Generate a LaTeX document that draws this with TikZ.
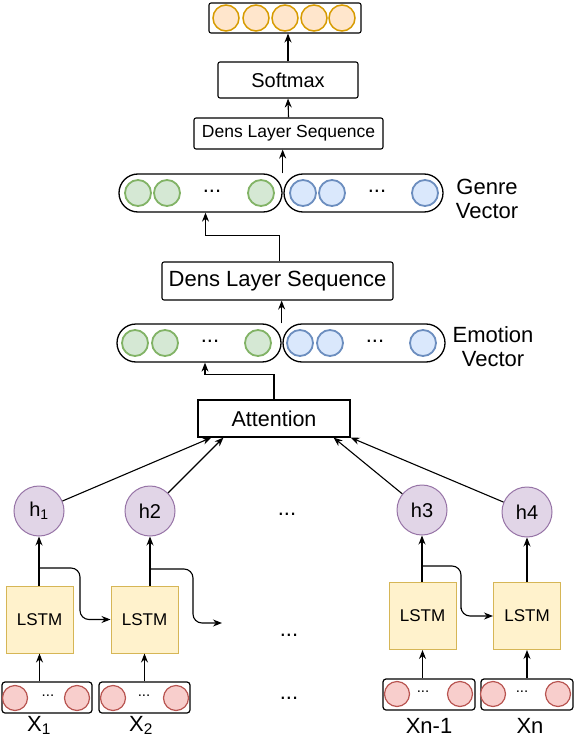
\documentclass[tikz,border=0pt]{standalone}
\usepackage{fontspec}
\setmainfont{Liberation Sans}
\usetikzlibrary{arrows.meta,positioning,calc}

\definecolor{lstmfill}{HTML}{FFF2CC}
\definecolor{lstmdraw}{HTML}{D6B656}
\definecolor{hfill}{HTML}{E1D5E7}
\definecolor{hdraw}{HTML}{9673A6}
\definecolor{xfill}{HTML}{F8CECC}
\definecolor{xdraw}{HTML}{B85450}
\definecolor{gfill}{HTML}{D5E8D4}
\definecolor{gdraw}{HTML}{82B366}
\definecolor{bfill}{HTML}{DAE8FC}
\definecolor{bdraw}{HTML}{6C8EBF}
\definecolor{ofill}{HTML}{FFE6CC}
\definecolor{odraw}{HTML}{D79B00}

\newcommand{\fs}[1]{\fontsize{#1}{#1}\selectfont}

\tikzset{
  arr/.style={-{Stealth[length=9pt,width=7pt]}, line width=1.1pt},
  layer/.style={draw, line width=1.1pt, rounded corners=2pt, inner sep=0pt},
  pill/.style={draw, line width=1.3pt, rounded corners=19pt, minimum height=38pt, inner sep=0pt},
  xpill/.style={draw, line width=1.2pt, rounded corners=3pt, minimum height=31pt, inner sep=0pt},
  lstm/.style={draw=lstmdraw, fill=lstmfill, line width=1pt, minimum width=67pt, minimum height=67pt, inner sep=0pt, font=\fs{17}},
  hcell/.style={circle, draw=hdraw, fill=hfill, line width=1pt, minimum size=50pt, inner sep=0pt, font=\fs{20}},
  gdot/.style={circle, draw=gdraw, fill=gfill, line width=1.8pt, minimum size=26pt, inner sep=0pt},
  bdot/.style={circle, draw=bdraw, fill=bfill, line width=1.8pt, minimum size=26pt, inner sep=0pt},
  odot/.style={circle, draw=odraw, fill=ofill, line width=1.5pt, minimum size=26pt, inner sep=0pt},
  xdot/.style={circle, draw=xdraw, fill=xfill, line width=1.2pt, minimum size=25pt, inner sep=0pt},
  dots/.style={font=\fs{22}, inner sep=0pt}
}

\begin{document}
\begin{tikzpicture}[x=1pt,y=-1pt]
  \useasboundingbox (0,0) rectangle (574,738);

  % output layer
  \node[layer, minimum width=152pt, minimum height=30pt] (out) at (285,18) {};
  \foreach \i/\x in {1/226,2/256,3/285,4/314,5/342}
    \node[odot] (o\i) at (\x,18) {};
  \node[layer, minimum width=140pt, minimum height=36pt, font=\fs{20}] (soft) at (288,80) {Softmax};
  \node[layer, minimum width=189pt, minimum height=31pt, font=\fs{17.5}] (dens2) at (288.5,133.5) {Dens Layer Sequence};

  % genre vector
  \node[pill, minimum width=163pt] (gg) at (200.5,193) {};
  \node[pill, minimum width=159pt] (gb) at (363.5,193) {};
  \node[gdot] (gg1) at (138,193) {};
  \node[gdot] (gg2) at (167,193) {};
  \node[dots] at (212,191) {...};
  \node[gdot] (gg3) at (261,193) {};
  \node[bdot] (gb1) at (303,193) {};
  \node[bdot] (gb2) at (332,193) {};
  \node[dots] at (377,191) {...};
  \node[bdot] (gb3) at (425,193) {};
  \node[align=center, font=\fs{22}, inner sep=0pt] (glabel) at (487,199) {Genre\\[2pt]Vector};

  \node[layer, minimum width=231pt, minimum height=38pt, font=\fs{22}] (dens) at (277.5,281) {Dens Layer Sequence};

  % emotion vector
  \node[pill, minimum width=164pt] (eg) at (199,343) {};
  \node[pill, minimum width=162pt] (eb) at (364,343) {};
  \node[gdot] (eg1) at (135,343) {};
  \node[gdot] (eg2) at (165,343) {};
  \node[dots] at (210,341) {...};
  \node[gdot] (eg3) at (258,343) {};
  \node[bdot] (eb1) at (300,343) {};
  \node[bdot] (eb2) at (330,343) {};
  \node[dots] at (375,341) {...};
  \node[bdot] (eb3) at (423,343) {};
  \node[align=center, font=\fs{22}, inner sep=0pt] (elabel) at (493,347) {Emotion\\[2pt]Vector};

  \node[draw, line width=1.1pt, minimum width=152pt, minimum height=37pt, inner sep=0pt, font=\fs{21.5}] (att) at (274,418.5) {Attention};

  % hidden states
  \node[hcell] (h1) at (39,511) {h\textsubscript{1}};
  \node[hcell] (h2) at (150,511) {h2};
  \node[hcell] (h3) at (422,510) {h3};
  \node[hcell] (h4) at (527,512) {h4};
  \node[dots] (hdots) at (287,514) {...};

  % lstm cells
  \node[lstm] (l1) at (39.5,619.5) {LSTM};
  \node[lstm] (l2) at (144.5,619.5) {LSTM};
  \node[lstm] (l3) at (422.5,616) {LSTM};
  \node[lstm] (l4) at (527,616) {LSTM};
  \node[dots] (ldots) at (289,635) {...};

  % inputs
  \node[xpill, minimum width=90pt] (x1) at (47,697.5) {};
  \node[xpill, minimum width=91pt] (x2) at (144.5,697.5) {};
  \node[xpill, minimum width=92pt] (x3) at (429,694.5) {};
  \node[xpill, minimum width=92pt] (x4) at (527,694.5) {};
  \node[xdot] at (15,698) {};   \node[xdot] at (77,698) {};
  \node[xdot] at (113,698) {};  \node[xdot] at (176,698) {};
  \node[xdot] at (397,694) {};  \node[xdot] at (460,694) {};
  \node[xdot] at (493,694) {};  \node[xdot] at (558,694) {};
  \node[dots, font=\fs{15}] at (48,696) {...};
  \node[dots, font=\fs{15}] at (144,696) {...};
  \node[dots, font=\fs{15}] at (423,692) {...};
  \node[dots, font=\fs{15}] at (522,692) {...};
  \node[dots] (xdots) at (289,698) {...};

  \node[font=\fs{22}, anchor=base, inner sep=0pt] (lx1) at (39,731) {X\textsubscript{1}};
  \node[font=\fs{22}, anchor=base, inner sep=0pt] (lx2) at (141,731) {X\textsubscript{2}};
  \node[font=\fs{22}, anchor=base, inner sep=0pt] (lx3) at (429,733) {Xn-1};
  \node[font=\fs{22}, anchor=base, inner sep=0pt] (lx4) at (530,733) {Xn};

  \coordinate (r1) at (39,568);
  \coordinate (r2) at (150,569);
  \coordinate (r3) at (422,566);
  \coordinate (nxt) at (222,623);

  \path[arr]
    (l1.south |- x1.north) edge (l1.south)
    (l2.south |- x2.north) edge (l2.south)
    (l3.south |- x3.north) edge (l3.south)
    (l4.south |- x4.north) edge (l4.south)
    (h1.south |- l1.north) edge (h1.south)
    (h2.south |- l2.north) edge (h2.south)
    (h3.south |- l3.north) edge (h3.south)
    (h4.south |- l4.north) edge (h4.south)
    (h1) edge ([xshift=14]att.south west)
    (h2) edge ([xshift=26]att.south west)
    (h3) edge ([xshift=-17]att.south east)
    (h4) edge (att.south east)
    (eg.north east) edge (eg.north east |- dens.south)
    (gg.north east) edge (gg.north east |- dens2.south)
    (dens2.north) edge (soft.south)
    (soft.north) edge (soft.north |- out.south);

  \draw[arr, rounded corners=9pt] (r1) -| (80,600) |- (l2.west);
  \draw[arr, rounded corners=9pt] (r2) -| (193,600) |- (nxt);
  \draw[arr, rounded corners=9pt] (r3) -| (461,600) |- (l4.west);

  \draw[arr] (att.north) -- ++(0,-25) -| ([xshift=6]eg.south);
  \draw[arr] ([xshift=2]dens.north) -- ++(0,-26) -| ([xshift=5]gg.south);
\end{tikzpicture}
\end{document}
